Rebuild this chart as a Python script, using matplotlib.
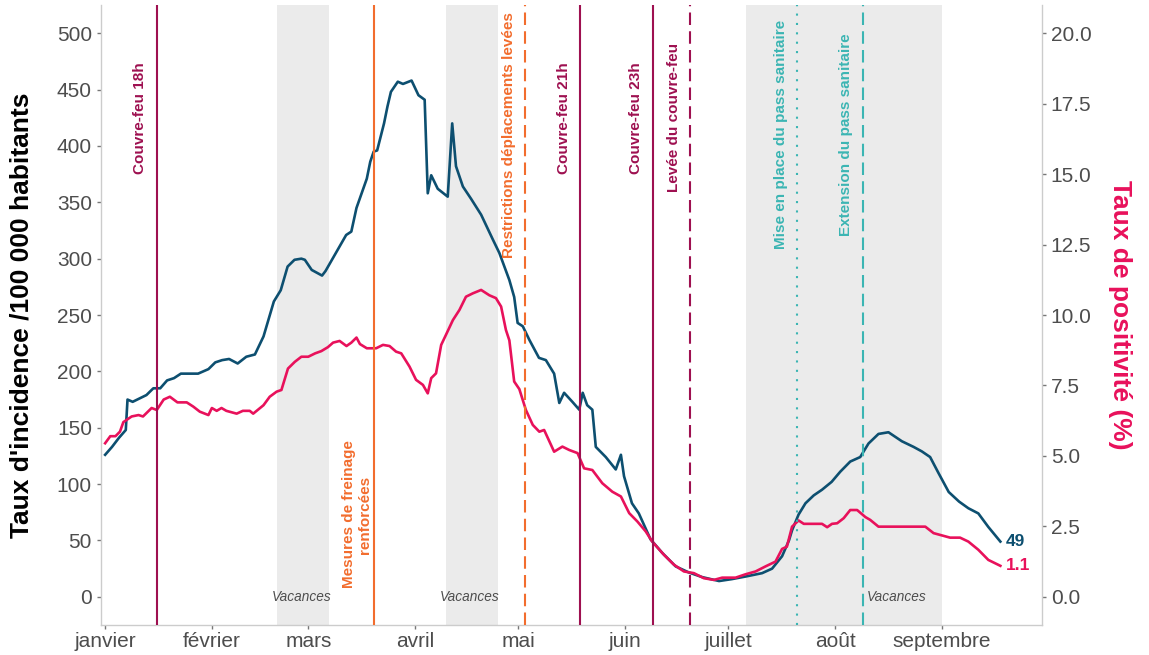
import numpy as np
import pandas as pd
import matplotlib
matplotlib.use("Agg")
import matplotlib.pyplot as plt
import matplotlib.dates as mdates

plt.rcParams['font.family'] = ['Liberation Sans', 'DejaVu Sans']

debut = pd.Timestamp("2021-01-01")

# taux d'incidence (jours depuis le 1er janvier, valeur /100 000 hab.)
jours_incidence = [0, 2, 4, 6, 6.5, 8, 10, 12, 14, 16, 18, 20, 22, 27, 30, 32, 34, 36, 38.5, 41,
                   43.5, 46, 49, 51, 53, 55, 57, 58, 60, 63, 64, 67, 70, 71.5, 73, 76, 77, 78, 79, 81,
                   82, 83, 85, 86.5, 89, 91, 92.8, 93.7, 94.7, 96.6, 99.5, 100.8, 101.9, 103.9, 106.3,
                   109.2, 112.6, 114.5, 117.4, 118.8, 119.8, 121.3, 123.2, 126, 128, 130.4, 131.9, 133.3,
                   135.7, 137.7, 138.7, 140, 141.5, 142.5, 145.4, 148.3, 149.8, 150.7, 153, 155, 158.4,
                   161.8, 165.7, 169.6, 173.4, 178.3, 182, 186, 190.8, 193.7, 196.6, 198.6, 199.5, 201.4,
                   203.4, 205.8, 208.2, 211, 213.5, 216.4, 219.3, 221.7, 224.6, 227.5, 231.4, 234.8, 237.2,
                   239.6, 242, 245, 248, 250.7, 253.6, 256.5, 260]
incidence = [126, 133, 141, 148, 175, 173, 176, 179, 185, 185, 192, 194, 198, 198, 202, 208, 210, 211, 207, 213,
             215, 231, 262, 272, 293, 299, 300, 299, 290, 285, 289, 305, 321, 324, 345, 371, 386, 395, 396, 420,
             435, 448, 457, 455, 458, 445, 441, 358, 374, 362, 355, 420, 382, 364, 353,
             339, 317, 305, 281, 266, 243, 240, 228, 212, 210, 198, 172, 181,
             173, 166, 181, 170, 166, 133, 124, 113, 126, 107, 83, 74, 51,
             39, 27, 21.5, 17.5, 14, 15.7, 18, 21, 25, 36, 50, 59, 73,
             83, 90, 95, 102, 111, 120, 124, 136, 144.5, 146, 138, 133, 129,
             124, 110, 93, 84.5, 78.6, 74, 62, 49]

# taux de positivité (%)
jours_positivite = [0, 1.5, 3, 4.3, 5.3, 7.7, 9.7, 11, 13.5, 15, 17, 18.8, 21, 23.7, 25.6, 27.5, 30, 31, 32.4,
                    33.8, 35.2, 38.2, 40, 42, 43, 46, 47.8, 49.8, 51.2, 53.1, 55.1, 57, 59, 61, 62.8, 64.7,
                    66.2, 68.1, 70.1, 71.5, 73, 74, 76, 78.7, 80.7, 82.6, 84.5, 86, 88.4, 90.3, 92.3, 93.7,
                    94.7, 96.1, 97.6, 99, 101, 102.9, 104.8, 106.8, 109.2, 111.6, 113.5, 115, 116.4, 117.4,
                    118.8, 120.3, 122.2, 124.2, 126.1, 127.5, 130.4, 132.8, 134.8, 137.2, 139.1, 141.5, 144.4,
                    147.3, 149.8, 152.2, 154.6, 157, 158.9, 162.3, 165.2, 168.1, 171, 173.9, 176.8, 179.2,
                    183.1, 186, 188.9, 191.8, 194.7, 196.6, 198, 199.5, 201.4, 202.9, 208.2, 209.7, 211.1,
                    212.6, 214.5, 216.4, 218.4, 220.8, 222.2, 224.6, 238.2, 240.6, 243, 245.4, 248.3, 250.7,
                    253.6, 256.5, 260]
positivite = [5.45, 5.7, 5.7, 5.86, 6.2, 6.4, 6.45, 6.4, 6.7, 6.63, 7.0, 7.1, 6.9, 6.9, 6.75, 6.57, 6.45, 6.7, 6.6,
              6.7, 6.6, 6.5, 6.6, 6.6, 6.5, 6.8, 7.1, 7.28, 7.34, 8.1, 8.34, 8.52, 8.52, 8.64, 8.72, 8.86,
              9.02, 9.08, 8.9, 9.02, 9.2, 8.97, 8.82, 8.82, 8.94, 8.9, 8.7, 8.64, 8.17, 7.7, 7.52, 7.22,
              7.76, 7.93, 8.94, 9.3, 9.82, 10.18, 10.65, 10.77, 10.89, 10.7, 10.6, 10.3, 9.47, 9.1,
              7.64, 7.37, 6.63, 6.1, 5.86, 5.92, 5.15, 5.33, 5.21, 5.1, 4.56, 4.5, 4.03,
              3.73, 3.56, 2.97, 2.67, 2.32, 1.96, 1.49, 1.14, 0.9, 0.84, 0.66, 0.6, 0.68,
              0.68, 0.8, 0.9, 1.08, 1.25, 1.7, 1.78, 2.49, 2.71, 2.59, 2.59, 2.47, 2.59,
              2.61, 2.79, 3.08, 3.08, 2.83, 2.73, 2.49, 2.49, 2.26, 2.18, 2.1, 2.1, 1.96,
              1.67, 1.31, 1.1]

vacances_debut = ["2021-02-20", "2021-04-10", "2021-07-06"]
vacances_fin = ["2021-03-07", "2021-04-25", "2021-09-01"]
vacances_texte = ["2021-02-27", "2021-04-17", "2021-08-19"]

evenements = ["Couvre-feu 18h", "Mesures de freinage\nrenforcées", "Restrictions déplacements levées",
              "Couvre-feu 21h", "Couvre-feu 23h", "Levée du couvre-feu",
              "Mise en place du pass sanitaire", "Extension du pass sanitaire"]
dates_evenements = ["2021-01-16", "2021-03-20", "2021-05-03", "2021-05-19", "2021-06-09", "2021-06-20",
                    "2021-07-21", "2021-08-09"]
hauteur_texte = [425, 73, 410, 425, 425, 425, 410, 410]

mois = ["janvier", "février", "mars", "avril", "mai", "juin", "juillet", "août", "septembre"]

bleu = "#0d4f70"
rose = "#e8115b"
bordeaux = "#9e1050"
orange = "#f26d2e"
turquoise = "#3bb5b3"
couleurs = [bordeaux, orange, orange, bordeaux, bordeaux, bordeaux, turquoise, turquoise]
styles = ["-", "-", (0, (6, 3)), "-", "-", (0, (6, 3)), (0, (1, 3.5)), (0, (6, 3))]

dates_inc = debut + pd.to_timedelta(jours_incidence, unit="D")
dates_pos = debut + pd.to_timedelta(jours_positivite, unit="D")

fig = plt.figure(figsize=(11.49, 6.55), dpi=100)
ax = fig.add_axes([0.0879, 0.0458, 0.8187, 0.9465])
ax2 = ax.twinx()

for d, f in zip(vacances_debut, vacances_fin):
    ax.axvspan(pd.Timestamp(d), pd.Timestamp(f), color="#ebebeb", lw=0, zorder=0)
for d in vacances_texte:
    ax.text(pd.Timestamp(d), 0, "Vacances", style="italic", fontsize=9.8, color="#4d4d4d",
            ha="center", va="center", zorder=1)

ax.plot(dates_inc, incidence, color=bleu, lw=1.9, zorder=3)
ax2.plot(dates_pos, positivite, color=rose, lw=1.9, zorder=3)

for nom, d, h, c, s in zip(evenements, dates_evenements, hauteur_texte, couleurs, styles):
    ax2.axvline(pd.Timestamp(d), color=c, ls=s, lw=1.5, zorder=4)
    ax.annotate(nom, xy=(pd.Timestamp(d), h), xytext=(-12, 0), textcoords="offset points",
                rotation=90, ha="center", va="center", multialignment="center",
                fontsize=11, fontweight="bold", color=c, zorder=5)

ax.annotate(f"{incidence[-1]:g}", xy=(dates_inc[-1], incidence[-1]), xytext=(4, 0),
            textcoords="offset points", ha="left", va="center", color=bleu,
            fontsize=12.5, fontweight="bold")
ax2.annotate(f"{positivite[-1]:g}", xy=(dates_pos[-1], positivite[-1]), xytext=(4, 0),
             textcoords="offset points", ha="left", va="center", color=rose,
             fontsize=12.5, fontweight="bold")

ax.set_xlim(debut - pd.Timedelta(days=1.2), debut + pd.Timedelta(days=272))
ax.set_ylim(-25, 525)
ax2.set_ylim(-1, 21)
ax.set_yticks(np.arange(0, 501, 50))
ax2.set_yticks(np.arange(0, 20.1, 2.5))
ax2.set_yticklabels([f"{v:.1f}" for v in np.arange(0, 20.1, 2.5)])
ax.set_xticks(pd.date_range("2021-01-01", periods=9, freq="MS"))
ax.set_xticklabels(mois)

for a in (ax, ax2):
    for side in a.spines:
        a.spines[side].set_visible(False)
    a.tick_params(colors="#777777", labelcolor="#4d4d4d", labelsize=15, length=3, width=1)
ax.spines["left"].set_visible(True)
ax.spines["bottom"].set_visible(True)
ax2.spines["right"].set_visible(True)
for sp in (ax.spines["left"], ax.spines["bottom"], ax2.spines["right"]):
    sp.set_color("#cccccc")
    sp.set_linewidth(1)
ax.tick_params(axis="x", pad=2)

ax.set_ylabel("Taux d'incidence /100 000 habitants", fontsize=19, fontweight="bold",
              color="black", va="center")
ax.yaxis.set_label_coords(-0.084, 0.5)
ax2.set_ylabel("Taux de positivité (%)", fontsize=19, fontweight="bold", color=rose,
               rotation=-90, va="center")
ax2.yaxis.set_label_coords(1.083, 0.5)

fig.savefig("out.png", dpi=100)
